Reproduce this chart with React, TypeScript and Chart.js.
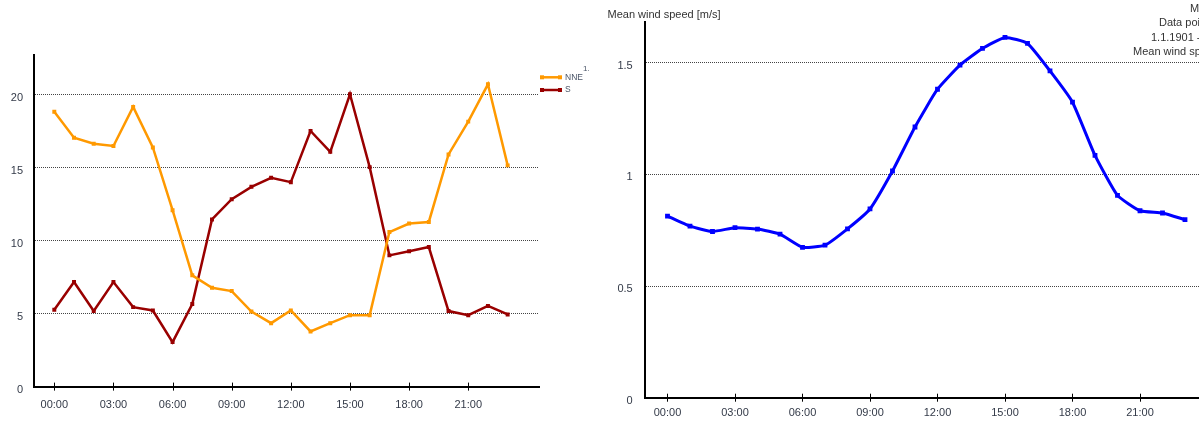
import React, { useEffect, useRef } from "react";
import { Chart, registerables } from "chart.js";
Chart.register(...registerables);

const HOURS = [0, 1, 2, 3, 4, 5, 6, 7, 8, 9, 10, 11, 12, 13, 14, 15, 16, 17, 18, 19, 20, 21, 22, 23];
const X_TICK_VALUES = [0, 3, 6, 9, 12, 15, 18, 21];
const X_TICK_LABELS = ["00:00", "03:00", "06:00", "09:00", "12:00", "15:00", "18:00", "21:00"];

const NNE = [18.85, 17.07, 16.66, 16.5, 19.18, 16.4, 12.1, 7.63, 6.78, 6.55, 5.15, 4.35, 5.22, 3.78, 4.35, 4.9, 4.9, 10.6, 11.18, 11.29, 15.92, 18.17, 20.73, 15.17];
const S = [5.27, 7.17, 5.18, 7.17, 5.45, 5.22, 3.05, 5.66, 11.46, 12.85, 13.7, 14.32, 14.02, 17.53, 16.1, 20.05, 15.05, 9.0, 9.28, 9.57, 5.18, 4.9, 5.53, 4.95];
const MEAN_WIND = [0.813, 0.768, 0.744, 0.761, 0.755, 0.732, 0.673, 0.683, 0.756, 0.845, 1.015, 1.212, 1.381, 1.489, 1.564, 1.613, 1.586, 1.463, 1.323, 1.085, 0.906, 0.837, 0.827, 0.797];

const LEFT_Y_TICKS = [0, 5, 10, 15, 20];
const RIGHT_Y_TICKS = [0, 0.5, 1, 1.5];

const LEFT_SERIES_NAMES = ["NNE", "S"];
const LEFT_COLORS = ["#FF9900", "#990000"];
const RIGHT_COLOR = "#0000FF";
const RIGHT_AXIS_TITLE = "Mean wind speed [m/s]";
const RIGHT_INFO = ["Mean", "Data points: 8760", "1.1.1901 - 31.12.1901", "Mean wind speed: 1.04 m/s"];

const FONT = "'Liberation Sans', Arial, sans-serif";
const TICK_COLOR = "#333a48";
const GRID_COLOR = "#444444";

const toXY = (ys: number[]) => HOURS.map((h, i) => ({ x: h, y: ys[i] }));

const tickMarksPlugin = {
  id: "tickMarks",
  afterDraw(chart: any) {
    const ctx = chart.ctx;
    const xs = chart.scales.x;
    const b = chart.chartArea.bottom;
    ctx.save();
    ctx.strokeStyle = "#000";
    ctx.lineWidth = 1;
    X_TICK_VALUES.forEach((v) => {
      const px = Math.round(xs.getPixelForValue(v)) + 0.5;
      ctx.beginPath();
      ctx.moveTo(px, b - 4);
      ctx.lineTo(px, b + 4);
      ctx.stroke();
    });
    ctx.restore();
  },
};

function makeScales(opts: {
  xMin: number; xMax: number; yMin: number; yMax: number; yTicks: number[];
  yWidth: number; xHeight: number; yPad: number; xPad: number;
}) {
  return {
    x: {
      type: "linear",
      min: opts.xMin,
      max: opts.xMax,
      afterBuildTicks: (s: any) => { s.ticks = X_TICK_VALUES.map((v) => ({ value: v })); },
      afterFit: (s: any) => { s.height = opts.xHeight; },
      grid: { display: false, drawTicks: false },
      border: { display: true, color: "#000", width: 2 },
      ticks: {
        autoSkip: false,
        maxRotation: 0,
        padding: opts.xPad,
        color: TICK_COLOR,
        font: { family: FONT, size: 11 },
        callback: (v: number) => {
          const i = X_TICK_VALUES.indexOf(v);
          return i >= 0 ? X_TICK_LABELS[i] : "";
        },
      },
    },
    y: {
      type: "linear",
      min: opts.yMin,
      max: opts.yMax,
      afterBuildTicks: (s: any) => { s.ticks = opts.yTicks.map((v) => ({ value: v })); },
      afterFit: (s: any) => { s.width = opts.yWidth; },
      grid: {
        drawTicks: false,
        color: (c: any) => (c.tick && c.tick.value === 0 ? "rgba(0,0,0,0)" : GRID_COLOR),
        lineWidth: 1,
      },
      border: { display: true, color: "#000", width: 2, dash: [1, 1] },
      ticks: {
        padding: opts.yPad,
        labelOffset: 3,
        color: TICK_COLOR,
        font: { family: FONT, size: 11 },
        callback: (v: number) => String(v),
      },
    },
  };
}

function LeftChart() {
  const ref = useRef<HTMLCanvasElement>(null);
  useEffect(() => {
    const legendPlugin = {
      id: "leftLegend",
      afterDraw(chart: any) {
        const ctx = chart.ctx;
        ctx.save();
        const rows = [77.3, 90];
        LEFT_SERIES_NAMES.forEach((name, i) => {
          const y = rows[i];
          ctx.strokeStyle = LEFT_COLORS[i];
          ctx.fillStyle = LEFT_COLORS[i];
          ctx.lineWidth = 2.5;
          ctx.beginPath();
          ctx.moveTo(542, y);
          ctx.lineTo(560, y);
          ctx.stroke();
          ctx.fillRect(540, y - 2, 4, 4);
          ctx.fillRect(558, y - 2, 4, 4);
          ctx.fillStyle = "#4a5568";
          ctx.font = `8.5px ${FONT}`;
          ctx.textBaseline = "middle";
          ctx.textAlign = "left";
          ctx.fillText(name, 565, y);
        });
        ctx.fillStyle = "#4a5568";
        ctx.font = `8px ${FONT}`;
        ctx.fillText("1.", 583, 68.5);
        ctx.restore();
      },
    };
    const chart = new Chart(ref.current!, {
      type: "line",
      data: {
        datasets: [NNE, S].map((arr, i) => ({
          label: LEFT_SERIES_NAMES[i],
          data: toXY(arr),
          borderColor: LEFT_COLORS[i],
          backgroundColor: LEFT_COLORS[i],
          borderWidth: 2.5,
          pointStyle: "rect",
          pointRadius: 2.8,
          pointBorderWidth: 0,
          pointBackgroundColor: LEFT_COLORS[i],
          tension: 0,
        })),
      },
      options: {
        animation: false,
        responsive: false,
        devicePixelRatio: 1,
        layout: { padding: { top: 55, right: 51, left: 0, bottom: 0 } },
        plugins: { legend: { display: false }, tooltip: { enabled: false }, title: { display: false } },
        scales: makeScales({
          xMin: -1.03, xMax: 24.59, yMin: 0, yMax: 22.74, yTicks: LEFT_Y_TICKS,
          yWidth: 34, xHeight: 424 - 386.6, yPad: 11, xPad: 12,
        }) as any,
      },
      plugins: [tickMarksPlugin, legendPlugin],
    });
    return () => chart.destroy();
  }, []);
  return (
    <canvas ref={ref} width={590} height={424}
      style={{ position: "absolute", left: 0, top: 0, width: 590, height: 424 }} />
  );
}

function RightChart() {
  const ref = useRef<HTMLCanvasElement>(null);
  useEffect(() => {
    const textPlugin = {
      id: "rightTexts",
      afterDraw(chart: any) {
        const ctx = chart.ctx;
        ctx.save();
        ctx.fillStyle = "#333333";
        ctx.font = `11px ${FONT}`;
        ctx.textBaseline = "middle";
        ctx.textAlign = "left";
        ctx.fillText(RIGHT_AXIS_TITLE, 17.5, 14.5);
        const xs = [600, 569, 561, 543];
        const ys = [8.5, 23.3, 37.5, 51.7];
        RIGHT_INFO.forEach((t, i) => ctx.fillText(t, xs[i], ys[i]));
        ctx.restore();
      },
    };
    const chart = new Chart(ref.current!, {
      type: "line",
      data: {
        datasets: [{
          label: "Mean wind speed",
          data: toXY(MEAN_WIND),
          borderColor: RIGHT_COLOR,
          backgroundColor: RIGHT_COLOR,
          borderWidth: 3,
          pointStyle: "rect",
          pointRadius: 3.4,
          pointBorderWidth: 0,
          pointBackgroundColor: RIGHT_COLOR,
          tension: 0.15,
        }],
      },
      options: {
        animation: false,
        responsive: false,
        devicePixelRatio: 1,
        layout: { padding: { top: 22, right: 69, left: 0, bottom: 0 } },
        plugins: { legend: { display: false }, tooltip: { enabled: false }, title: { display: false } },
        scales: makeScales({
          xMin: -1.013, xMax: 24.6, yMin: 0, yMax: 1.682, yTicks: RIGHT_Y_TICKS,
          yWidth: 54.7, xHeight: 424 - 397.7, yPad: 12, xPad: 8.5,
        }) as any,
      },
      plugins: [tickMarksPlugin, textPlugin],
    });
    return () => chart.destroy();
  }, []);
  return (
    <canvas ref={ref} width={700} height={424}
      style={{ position: "absolute", left: 590, top: 0, width: 700, height: 424 }} />
  );
}

export default function App() {
  return (
    <div style={{ position: "fixed", left: 0, top: 0, width: 1199, height: 424, overflow: "hidden", background: "#fff" }}>
      <LeftChart />
      <RightChart />
    </div>
  );
}
